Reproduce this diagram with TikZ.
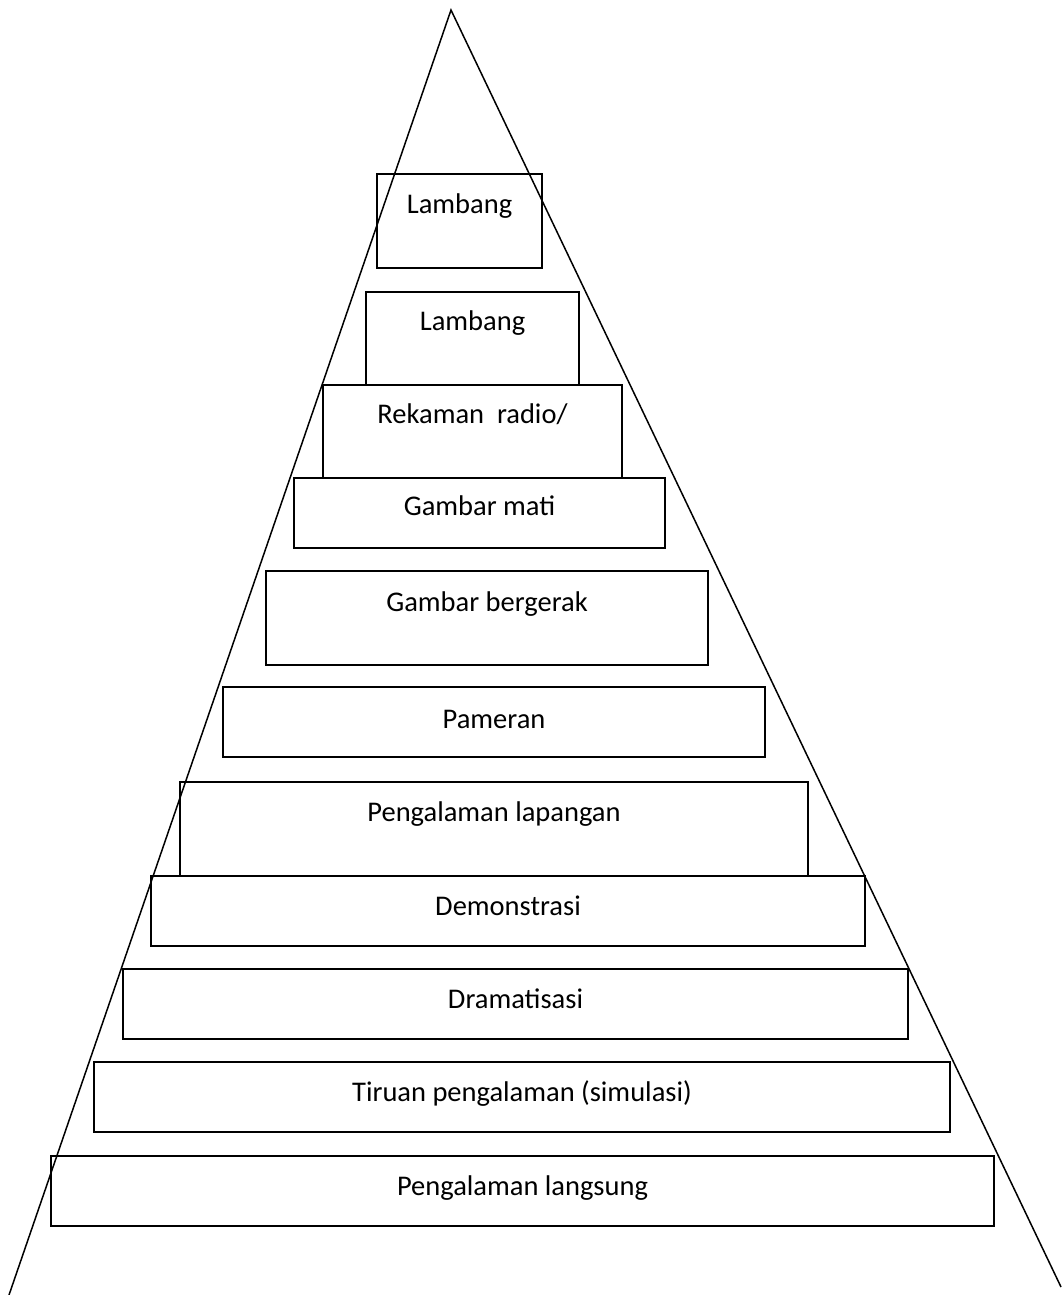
\documentclass[tikz,border=0pt]{standalone}
\usepackage{fontspec}
\setmainfont{Carlito}
\begin{document}
\begin{tikzpicture}[x=1pt,y=-1pt,
  tier/.style={draw=black,line width=1.5pt},
  tiertext/.style={anchor=base,inner sep=0pt,font=\fontsize{28.5}{34}\selectfont},
  side/.style={draw=black,line width=1.5pt}]
\useasboundingbox (0,0) rectangle (1061,1295);
% outer pyramid (two sides, open base)
\coordinate (apex) at (451,10);
\coordinate (baseL) at (9,1295);
\coordinate (baseR) at (1061,1287);
% tiers from top to bottom
\draw[tier] (377,174) rectangle (542,268);
\node[tiertext] (t1) at (459.5,213) {Lambang};
\draw[tier] (366,292) rectangle (579,385);
\node[tiertext] (t2) at (472.5,330) {Lambang};
\draw[tier] (323,385) rectangle (622,478);
\node[tiertext] (t3) at (472.5,423) {Rekaman\ \ radio/};
\draw[tier] (294,478) rectangle (665,548);
\node[tiertext] (t4) at (479.5,515) {Gambar mati};
\draw[tier] (266,571) rectangle (708,665);
\node[tiertext] (t5) at (487,611) {Gambar bergerak};
\draw[tier] (223,687) rectangle (765,757);
\node[tiertext] (t6) at (494,728) {Pameran};
\draw[tier] (180,782) rectangle (808,876);
\node[tiertext] (t7) at (494,821) {Pengalaman lapangan};
\draw[tier] (151,876) rectangle (865,946);
\node[tiertext] (t8) at (508,915) {Demonstrasi};
\draw[tier] (123,969) rectangle (908,1039);
\node[tiertext] (t9) at (515.5,1008) {Dramatisasi};
\draw[tier] (94,1062) rectangle (950,1132);
\node[tiertext] (t10) at (522,1101) {Tiruan pengalaman (simulasi)};
\draw[tier] (51,1156) rectangle (994,1226);
\node[tiertext] (t11) at (522.5,1195) {Pengalaman langsung};
% pyramid sides drawn over the tiers
\draw[side] (baseL) -- (apex) -- (baseR);
\end{tikzpicture}
\end{document}
